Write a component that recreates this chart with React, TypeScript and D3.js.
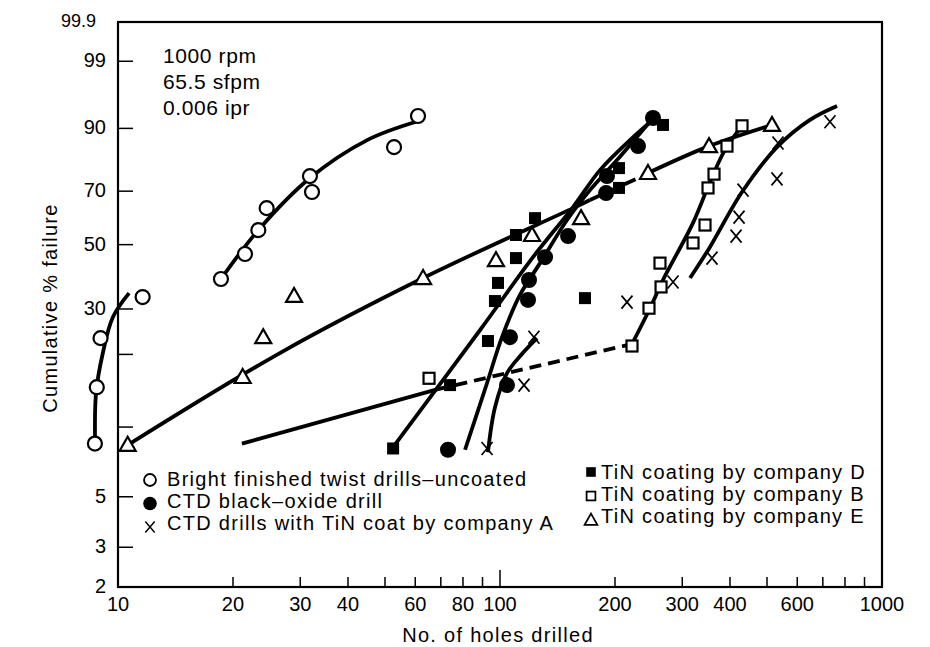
import * as d3 from 'd3'

const width = 930, height = 647
const plot = { left: 118, right: 882, top: 22, bottom: 587 }
const font = '"Liberation Sans", Arial, sans-serif'

// axis ticks
const xTickValues = [10, 20, 30, 40, 50, 60, 70, 80, 90, 100, 200, 300, 400, 500, 600, 700, 800, 900, 1000]
const xTickLabels = [10, 20, 30, 40, 60, 80, 100, 200, 300, 400, 600, 1000]
const yTickValues = [99, 90, 70, 50, 30, 20, 10, 5, 3]
const yTickLabels = [99.9, 99, 90, 70, 50, 30, 5, 3, 2]

// measured points: [holes drilled, cumulative % failure]
const uncoated = [[8.7, 8.5], [8.8, 14.7], [9.0, 23.2], [11.6, 33.2], [18.6, 38.5], [21.5, 46.7], [23.3, 55.3], [24.5, 63.6], [31.8, 75.5], [32.2, 69.7], [52.8, 85.0], [61.0, 92.7]]
const blackOxide = [[73.1, 8.0], [104.3, 15.0], [106.2, 23.4], [118.4, 32.4], [119.1, 38.2], [131.2, 45.6], [150.7, 53.1], [189.5, 69.3], [190.6, 75.5], [229.8, 85.3], [251.5, 92.3]]
const companyA = [[92.5, 8.1], [115.6, 15.0], [122.7, 23.4], [215, 31.8], [283.8, 37.6], [358.9, 45.3], [414.9, 53.1], [422.5, 60.2], [432.7, 70.4], [531, 74.5], [534.2, 86.2], [730.9, 91.5]]
const companyD = [[52.5, 8.1], [74.0, 15.0], [93.0, 22.6], [97.0, 32.1], [98.8, 37.3], [110.1, 45.3], [110.1, 53.5], [123.5, 59.8], [166.9, 32.9], [204.9, 71.2], [204.9, 78.3], [267.1, 90.8]]
const companyB = [[65.2, 16.0], [221.6, 21.6], [245.5, 30.2], [264.0, 36.1], [262.3, 43.6], [320.1, 50.6], [344.1, 57.2], [350.4, 71.2], [363.3, 76.2], [392.8, 85.3], [430.1, 90.6]]
const companyE = [[10.6, 8.4], [21.2, 16.2], [24.0, 23.4], [28.9, 33.5], [62.9, 38.8], [97.6, 44.6], [121.3, 53.5], [163.0, 59.8], [244.0, 76.6], [352.5, 85.3], [515.3, 90.8]]

// hand-fitted curves
const uncoatedFitLow = [[8.71, 8.6], [8.76, 13.9], [9.13, 20.3], [9.7, 28.0], [10.69, 34.3]]
const uncoatedFitHigh = [[18.6, 38.5], [23.3, 55.3], [31.8, 74.8], [44.9, 87.0], [60.3, 91.5]]
const blackOxideFit = [[81.0, 8.0], [92.5, 15.3], [101.2, 23.4], [112.8, 33.8], [127.3, 43.6], [149.8, 59.1], [172.0, 70.4], [202.5, 81.0], [251.5, 92.3]]
const companyDFit = [[52.5, 8.2], [88.6, 24.9], [122.0, 45.6], [155.3, 64.0], [182.7, 77.6], [218.9, 87.0], [254.6, 92.3]]
const companyAFitLow = [[93.0, 7.8], [97.0, 12.1], [104.3, 16.8], [114.9, 20.3], [125.0, 23.2]]
const companyAFitHigh = [[314.4, 38.8], [354.6, 49.2], [430.1, 69.7], [531, 85.0], [647.8, 91.9], [762.6, 94.5]]
const companyBFitSolid = [[21.1, 8.5], [68.4, 14.4]]
const companyBFitDash = [[68.4, 14.4], [221.6, 22.0]]
const companyBFitSteep = [[221.6, 22.0], [247.0, 30.2], [267.1, 38.2], [320.1, 58.0], [354.6, 73.4], [388.1, 84.2], [430.1, 90.6]]
const companyEFitSolid = [[10.75, 8.5], [26.6, 20.3], [62.9, 38.8], [155.3, 63.6], [172.0, 66.7]]
const companyEFitDash = [[172.0, 66.7], [239.7, 75.9]]
const companyEFitUpper = [[244.0, 76.6], [352.5, 85.3], [515.3, 90.8]]

const legendLeft = [
  ['openCircle', 'Bright finished twist drills\u2013uncoated'],
  ['dot', 'CTD black\u2013oxide drill'],
  ['cross', 'CTD drills with TiN coat by company A'],
]
const legendRight = [
  ['fillSquare', 'TiN coating by company D'],
  ['openSquare', 'TiN coating by company B'],
  ['triangle', 'TiN coating by company E'],
]
const notes = ['1000 rpm', '65.5 sfpm', '0.006 ipr']

const x = d3.scaleLog().domain([10, 1000]).range([plot.left, plot.right])
const weib = (p: number) => Math.log(-Math.log(1 - p / 100))
const yLin = d3.scaleLinear().domain([weib(2), weib(99.9)]).range([plot.bottom, plot.top])
const y = (p: number) => yLin(weib(p))

const line = d3.line<number[]>()
  .x(d => x(d[0]))
  .y(d => y(d[1]))
  .curve(d3.curveCatmullRom.alpha(0.5))

const Marker = ({ kind, cx, cy, s = 1 }: { kind: string, cx: number, cy: number, s?: number }) => {
  const t = `translate(${cx},${cy}) scale(${s})`
  switch (kind) {
    case 'openCircle':
      return <circle transform={t} r={7} fill='white' stroke='black' strokeWidth={2.2} />
    case 'dot':
      return <circle transform={t} r={8} fill='black' />
    case 'fillSquare':
      return <rect transform={t} x={-6} y={-6} width={12} height={12} fill='black' />
    case 'openSquare':
      return <rect transform={t} x={-5.5} y={-5.5} width={11} height={11} fill='white' stroke='black' strokeWidth={2.2} />
    case 'triangle':
      return <path transform={t} d='M0,-8L8,6L-8,6Z' fill='white' stroke='black' strokeWidth={2.2} />
    default:
      return <path transform={t} d='M-5.5,-6.5L5.5,6.5M5.5,-6.5L-5.5,6.5' stroke='black' strokeWidth={1.7} fill='none' />
  }
}

const scatter = [
  { kind: 'openCircle', data: uncoated },
  { kind: 'dot', data: blackOxide },
  { kind: 'cross', data: companyA },
  { kind: 'fillSquare', data: companyD },
  { kind: 'openSquare', data: companyB },
  { kind: 'triangle', data: companyE },
]

const fits = [
  { data: uncoatedFitLow }, { data: uncoatedFitHigh }, { data: blackOxideFit }, { data: companyDFit },
  { data: companyAFitLow }, { data: companyAFitHigh }, { data: companyBFitSolid },
  { data: companyBFitDash, dash: true }, { data: companyBFitSteep },
  { data: companyEFitSolid }, { data: companyEFitDash, dash: true }, { data: companyEFitUpper },
]

export default function App() {
  return (
    <svg width={width} height={height} style={{ position: 'absolute', left: 0, top: 0, background: 'white' }}
      fontFamily={font}>
      {/* frame */}
      <rect x={plot.left} y={plot.top} width={plot.right - plot.left} height={plot.bottom - plot.top}
        fill='none' stroke='black' strokeWidth={2.2} />

      {/* x ticks */}
      {xTickValues.map(v => {
        const major = v === 10 || v === 100 || v === 1000
        return <line key={v} x1={x(v)} x2={x(v)} y1={plot.bottom} y2={plot.bottom - (major ? 17 : 10)}
          stroke='black' strokeWidth={1.5} />
      })}
      {xTickLabels.map(v => (
        <text key={v} x={x(v)} y={611} textAnchor='middle' fontSize={20}>{v}</text>
      ))}

      {/* y ticks */}
      {yTickValues.map(v => (
        <line key={v} x1={plot.left} x2={plot.left + 15} y1={y(v)} y2={y(v)} stroke='black' strokeWidth={1.5} />
      ))}
      {yTickLabels.map(v => (
        <text key={v} x={v === 99.9 ? 96 : 106} y={y(v)} dy='0.3em' textAnchor='end'
          fontSize={v === 99.9 ? 18 : 20}>{v}</text>
      ))}

      {/* axis titles */}
      <text x={498} y={642} textAnchor='middle' fontSize={20} letterSpacing={1.3}>
        No. of holes drilled</text>
      <text transform='translate(57,308) rotate(-90)' textAnchor='middle' fontSize={20} letterSpacing={1.3}>
        Cumulative % failure</text>

      {/* conditions */}
      {notes.map((n, i) => (
        <text key={n} x={163} y={63 + i * 26} fontSize={21} letterSpacing={0.6}>{n}</text>
      ))}

      {/* fitted curves */}
      {fits.map((f, i) => (
        <path key={i} d={line(f.data) ?? ''} fill='none' stroke='black' strokeWidth={3.8}
          strokeDasharray={f.dash ? '12 7' : undefined} />
      ))}

      {/* points */}
      {scatter.map(s => s.data.map((d, i) => (
        <Marker key={s.kind + i} kind={s.kind} cx={x(d[0])} cy={y(d[1])} />
      )))}

      {/* legend */}
      {legendLeft.map(([k, label], i) => (
        <g key={label}>
          <Marker kind={k} cx={150} cy={480 + i * 23.5} s={0.85} />
          <text x={167} y={486 + i * 22} fontSize={20} letterSpacing={1.3}>{label}</text>
        </g>
      ))}
      {legendRight.map(([k, label], i) => (
        <g key={label}>
          <Marker kind={k} cx={591} cy={472 + i * 24} s={0.8} />
          <text x={601} y={479 + i * 22} fontSize={20} letterSpacing={1.3}>{label}</text>
        </g>
      ))}
    </svg>
  )
}
